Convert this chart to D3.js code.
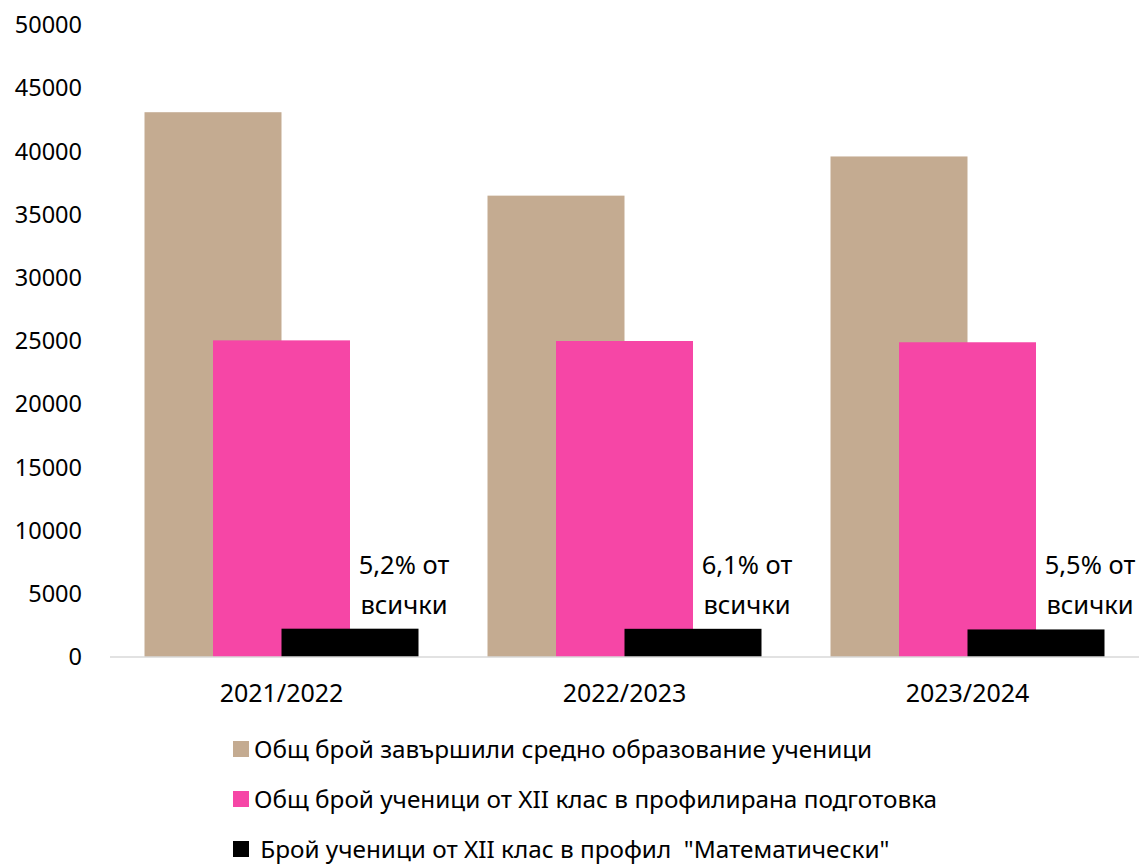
<!DOCTYPE html>
<html>
<head>
<meta charset="utf-8">
<script src="https://cdn.jsdelivr.net/npm/d3@7"></script>
<style>
  body { margin: 0; background: #fff; }
  text { font-family: "Noto Sans", "Open Sans", sans-serif; fill: #000; }
</style>
</head>
<body>
<script>
var years = ["2021/2022", "2022/2023", "2023/2024"];
var seriesNames = [
  "Общ брой завършили средно образование ученици",
  "Общ брой ученици от XII клас в профилирана подготовка",
  " Брой ученици от XII клас в профил  \"Математически\""
];
var graduates = [43100, 36500, 39600];
var profiled = [25050, 25000, 24900];
var mathProfile = [2240, 2230, 2180];
var shareLabels = [["5,2% от", "всички"], ["6,1% от", "всички"], ["5,5% от", "всички"]];
var colors = ["#C4AB91", "#F646A6", "#000000"];
var yTicks = [0, 5000, 10000, 15000, 20000, 25000, 30000, 35000, 40000, 45000, 50000];

var width = 1142, height = 864;
var plot = { left: 110, right: 1139, top: 25, bottom: 657 };

var svg = d3.select("body").append("svg")
  .attr("width", width)
  .attr("height", height);

var x = d3.scaleBand()
  .domain(years)
  .range([plot.left, plot.right]);

var y = d3.scaleLinear()
  .domain([0, 50000])
  .range([plot.bottom, plot.top]);

var barW = 137, step = 68.5; // bars overlap by half

var series = [graduates, profiled, mathProfile];

series.forEach(function (vals, s) {
  svg.append("g").selectAll("rect").data(vals).enter()
    .append("rect")
    .attr("x", function (d, i) { return x(years[i]) + x.bandwidth() / 2 - barW / 2 + (s - 1) * step; })
    .attr("y", function (d) { return y(d); })
    .attr("width", barW)
    .attr("height", function (d) { return y(0) - y(d); })
    .style("fill", colors[s]);
});

// baseline
svg.append("line")
  .attr("x1", plot.left).attr("x2", plot.right)
  .attr("y1", y(0)).attr("y2", y(0))
  .attr("stroke", "#D9D9D9")
  .attr("stroke-width", 1.5);

// y tick labels
svg.append("g").selectAll("text").data(yTicks).enter()
  .append("text")
  .attr("x", 82)
  .attr("y", function (d) { return y(d); })
  .attr("dy", "0.35em")
  .attr("text-anchor", "end")
  .style("font-size", "23.5px")
  .text(function (d) { return d; });

// x labels
svg.append("g").selectAll("text").data(years).enter()
  .append("text")
  .attr("x", function (d) { return x(d) + x.bandwidth() / 2; })
  .attr("y", 693)
  .attr("dy", "0.35em")
  .attr("text-anchor", "middle")
  .style("font-size", "25px")
  .text(function (d) { return d; });

// share labels next to black bars
var lab = svg.append("g").selectAll("text").data(shareLabels).enter()
  .append("text")
  .attr("text-anchor", "middle")
  .style("font-size", "25.5px");
lab.each(function (d, i) {
  var cx = x(years[i]) + x.bandwidth() / 2 + step + 54;
  var t = d3.select(this);
  t.append("tspan").attr("x", cx).attr("y", y(mathProfile[i]) - 55).text(d[0]);
  t.append("tspan").attr("x", cx).attr("y", y(mathProfile[i]) - 15).text(d[1]);
});

// legend (last row sits on the bottom edge, as in the source)
var leg = svg.append("g").selectAll("g").data(seriesNames).enter()
  .append("g")
  .attr("transform", function (d, i) { return "translate(233," + (749 + i * 50) + ")"; });
leg.append("rect")
  .attr("x", 0).attr("y", -8)
  .attr("width", 16).attr("height", 16)
  .style("fill", function (d, i) { return colors[i]; });
leg.append("text")
  .attr("x", 21)
  .attr("dy", "0.35em")
  .style("font-size", "24.3px")
  .style("white-space", "pre")
  .attr("xml:space", "preserve")
  .text(function (d) { return d; });
</script>
</body>
</html>
